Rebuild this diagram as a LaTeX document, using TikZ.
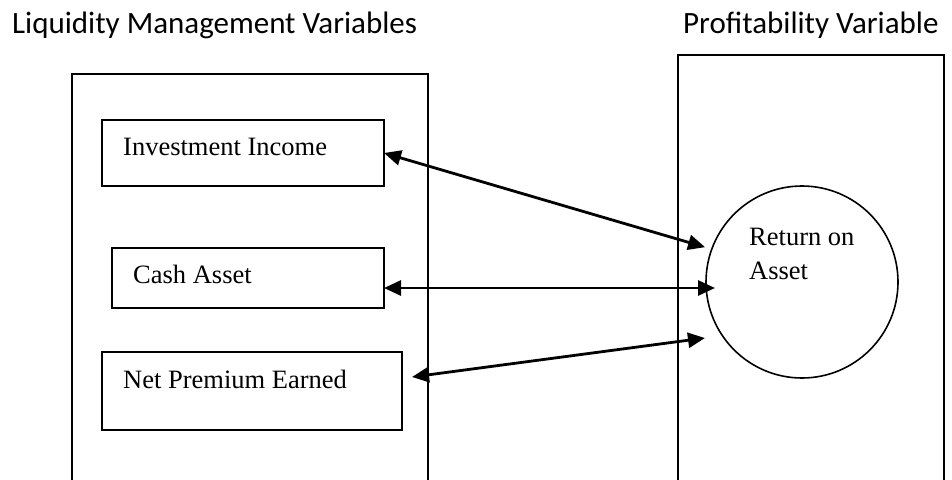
\documentclass[tikz,border=0pt]{standalone}
\usepackage{fontspec}
\setmainfont{Liberation Serif}
\newfontfamily\calfont{Carlito}
\usetikzlibrary{arrows.meta}
\begin{document}
\begin{tikzpicture}[x=1pt,y=-1pt,
  title/.style={font=\calfont\fontsize{31}{37}\selectfont, inner sep=0pt, anchor=base west},
  lbl/.style={font=\fontsize{26.5}{34}\selectfont, inner sep=0pt, anchor=base west},
  frame/.style={draw, line width=2pt, inner sep=0pt, outer sep=0pt},
  var/.style={draw, line width=2.2pt, inner sep=0pt, outer sep=0pt},
  roacirc/.style={draw, circle, line width=1.6pt, inner sep=0pt, outer sep=0pt, minimum size=192pt},
  arr/.style={{Triangle[length=17pt,width=15pt]}-{Triangle[length=17pt,width=15pt]}, line width=2.8pt}]
\useasboundingbox (0,0) rectangle (952,479);
% titles
\node[title] (t1) at (12,33) {Liquidity Management Variables};
\node[title] (t2) at (683,33) {Profitability Variable};
% frames (open at the bottom: their lower edges lie below the page)
\node[frame, minimum width=356pt, minimum height=426pt] (lbox) at (250,287) {};
\node[frame, line width=1.6pt, minimum width=266pt, minimum height=445pt] (rbox) at (811,277.5) {};
% variable boxes
\node[var, minimum width=282pt, minimum height=66pt] (inv) at (243,153) {};
\node[var, minimum width=272pt, minimum height=60pt] (cash) at (248,278) {};
\node[var, minimum width=300pt, minimum height=78pt] (net) at (252,391) {};
\node[lbl] (invt) at (123,155) {Investment Income};
\node[lbl] (casht) at (133,283) {Cash Asset};
\node[lbl] (nett) at (123,388) {Net Premium Earned};
% circle
\node[roacirc] (roa) at (802,282) {};
\node[lbl] (roat1) at (749,245) {Return on};
\node[lbl] (roat2) at (749,279) {Asset};
% connectors
\draw[arr, shorten >=7pt] (inv.east) -- (roa.160);
\draw[arr] ([yshift=-10pt]cash.east) -- ([shift={(9pt,-6pt)}]roa.west);
\draw[arr, shorten >=17.6pt] ([shift={(10pt,14pt)}]net.east) -- (roa.214);
\end{tikzpicture}
\end{document}
